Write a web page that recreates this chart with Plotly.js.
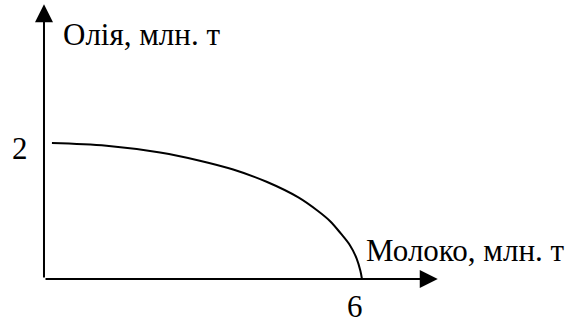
<!DOCTYPE html>
<html>
<head>
<meta charset="utf-8">
<script src="https://cdn.plot.ly/plotly-3.0.1.min.js"></script>
<style>
  html, body { margin: 0; padding: 0; background: #fff; }
  #chart { width: 575px; height: 323px; }
</style>
</head>
<body>
<div id="chart"></div>
<script>
// production possibility curve
let milk = [0.15, 1.18, 2.19, 2.94, 3.57, 4.20, 4.80, 5.17, 5.40, 5.60, 5.77, 5.90, 5.97, 6.00];
let oil = [2.00, 1.96, 1.86, 1.74, 1.61, 1.43, 1.20, 1.00, 0.85, 0.67, 0.50, 0.30, 0.12, 0.00];

let xTicks = [6];
let yTicks = [2];
let xTitle = 'Молоко, млн. т';
let yTitle = 'Олія, млн. т';

// axis arrow ends (data units)
let xEnd = 7.43;
let yEnd = 4.04;

let font = {family: 'Liberation Serif, Times New Roman, serif', size: 31, color: '#000'};

let data = [{
    type: 'scatter',
    mode: 'lines',
    x: milk,
    y: oil,
    line: {color: '#000', width: 2, shape: 'spline', smoothing: 1},
    hoverinfo: 'none'
}];

function axisArrow(x, y) {
    return {
        x: x, y: y, ax: 0, ay: 0,
        xref: 'x', yref: 'y', axref: 'x', ayref: 'y',
        text: '', showarrow: true,
        arrowhead: 2, arrowsize: 1.8, arrowwidth: 2, arrowcolor: '#000',
        standoff: 0, startstandoff: 0
    };
}

let annotations = [axisArrow(0, yEnd), axisArrow(xEnd, 0)];

yTicks.forEach(function(v) {
    annotations.push({
        x: 0, y: v, xref: 'x', yref: 'y', text: String(v),
        showarrow: false, xanchor: 'center', yanchor: 'middle',
        xshift: -23.5, yshift: -5, font: font
    });
});
xTicks.forEach(function(v) {
    annotations.push({
        x: v, y: 0, xref: 'x', yref: 'y', text: String(v),
        showarrow: false, xanchor: 'center', yanchor: 'middle',
        xshift: -7, yshift: -27, font: font
    });
});

annotations.push({
    x: 0.33, y: 3.60, xref: 'x', yref: 'y', text: yTitle,
    showarrow: false, xanchor: 'left', yanchor: 'middle', font: font
});
annotations.push({
    x: 6.045, y: 0.42, xref: 'x', yref: 'y', text: xTitle,
    showarrow: false, xanchor: 'left', yanchor: 'middle', font: font
});

let layout = {
    width: 575,
    height: 323,
    margin: {l: 0, r: 0, t: 0, b: 0},
    paper_bgcolor: '#fff',
    plot_bgcolor: '#fff',
    showlegend: false,
    xaxis: {range: [-0.830, 10.02], visible: false, fixedrange: true},
    yaxis: {range: [-0.647, 4.103], visible: false, fixedrange: true},
    annotations: annotations
};

Plotly.newPlot('chart', data, layout, {displayModeBar: false, staticPlot: true});
</script>
</body>
</html>
